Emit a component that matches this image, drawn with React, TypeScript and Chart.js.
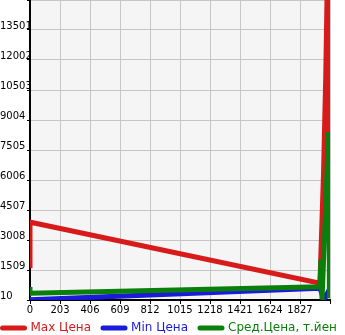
import { useEffect, useRef } from 'react';
import { Chart, registerables } from 'chart.js';

Chart.register(...registerables);

// ---- data ----
const seriesNames = ['Max Цена', 'Min Цена', 'Сред.Цена, т.йен'];
const seriesColors = ['#d71a1a', '#1a1ad9', '#0b7f0b'];

const maxX = [0, 0, 1962, 1986, 2001, 2015, 2022, 2026];
const maxY = [1600, 3900, 850, 6300, 11100, 17500, 14000, 2500];

const minX = [0, 1962, 1990, 2022];
const minY = [20, 600, 0, 500];

const avgX = [0, 0, 1962, 1969, 1976, 2020, 2024, 2026];
const avgY = [660, 350, 670, 2060, 30, 8400, 7800, 100];

const xTickLabels = [0, 203, 406, 609, 812, 1015, 1218, 1421, 1624, 1827];
const yTickLabels = [10, 1509, 3008, 4507, 6006, 7505, 9004, 10503, 12002, 13501];

const X_MIN = 0;
const X_MAX = 2030;
const X_STEP = 203;
const Y_MIN = 10;
const Y_MAX = 15000;
const Y_STEP = 1499;

const toPoints = (xs: number[], ys: number[]) => xs.map((x, i) => ({ x, y: ys[i] }));

const FONT = "'DejaVu Sans', sans-serif";
const LEGEND_PAD = 12;

export default function App() {
  const ref = useRef<HTMLCanvasElement | null>(null);

  useEffect(() => {
    document.body.style.margin = '0';
    const canvas = ref.current;
    if (!canvas) return;

    const bgPlugin = {
      id: 'plotBg',
      beforeDraw(chart: any) {
        const { ctx, chartArea } = chart;
        if (!chartArea) return;
        ctx.save();
        ctx.fillStyle = '#f5f5f5';
        ctx.fillRect(chartArea.left, chartArea.top, chartArea.right - chartArea.left, chartArea.bottom - chartArea.top);
        ctx.restore();
      },
    };

    const legendFit = {
      id: 'legendFit',
      beforeInit(chart: any) {
        const lg = chart.legend;
        if (!lg || lg.__patched) return;
        const orig = lg.fit;
        lg.fit = function () {
          const mw = this.maxWidth;
          this.maxWidth = 500;
          orig.call(this);
          this.maxWidth = mw;
          this.width = mw;
          this.height = 19;
        };
        lg.__patched = true;
      },
      afterLayout(chart: any) {
        const lg = chart.legend;
        if (!lg) return;
        lg.left = 2.5 - LEGEND_PAD;
        lg.right = 600;
        lg.top = lg.top - (LEGEND_PAD - 6);
      },
    };

    const chart = new Chart(canvas, {
      type: 'line',
      data: {
        datasets: [
          {
            label: seriesNames[0],
            data: toPoints(maxX, maxY),
            borderColor: seriesColors[0],
            backgroundColor: seriesColors[0],
            borderWidth: 5,
            pointRadius: 0,
            order: 3,
          },
          {
            label: seriesNames[1],
            data: toPoints(minX, minY),
            borderColor: seriesColors[1],
            backgroundColor: seriesColors[1],
            borderWidth: 5,
            pointRadius: 0,
            order: 2,
          },
          {
            label: seriesNames[2],
            data: toPoints(avgX, avgY),
            borderColor: seriesColors[2],
            backgroundColor: seriesColors[2],
            borderWidth: 5,
            pointRadius: 0,
            order: 1,
          },
        ],
      },
      options: {
        responsive: false,
        animation: false,
        layout: { padding: 0 },
        scales: {
          x: {
            type: 'linear',
            min: X_MIN,
            max: X_MAX,
            afterFit: (s: any) => {
              s.height = 16;
            },
            ticks: {
              stepSize: X_STEP,
              autoSkip: false,
              maxRotation: 0,
              minRotation: 0,
              padding: 0,
              color: '#000',
              font: { family: FONT, size: 10 },
              callback: (v: any) => (xTickLabels.includes(Number(v)) ? String(v) : ''),
            },
            grid: { color: '#c6c6c6', lineWidth: 1, tickLength: 4, tickColor: '#000' },
            border: { color: '#000', width: 2 },
          },
          y: {
            type: 'linear',
            min: Y_MIN,
            max: Y_MAX,
            afterFit: (s: any) => {
              s.width = 30;
            },
            ticks: {
              stepSize: Y_STEP,
              autoSkip: false,
              crossAlign: 'far',
              padding: -6,
              labelOffset: -4,
              color: '#000',
              font: { family: FONT, size: 10 },
              callback: (v: any) => (yTickLabels.includes(Number(v)) ? String(v) : ''),
            },
            grid: { color: '#c6c6c6', lineWidth: 1, tickLength: 3, tickColor: '#000' },
            border: { color: '#000', width: 2 },
          },
          yRight: {
            type: 'linear',
            position: 'right',
            display: true,
            afterFit: (s: any) => {
              s.width = 15;
            },
            grid: { display: false, drawTicks: false },
            border: { display: false },
            ticks: { display: false },
          },
        },
        plugins: {
          title: { display: false },
          tooltip: { enabled: false },
          legend: {
            position: 'bottom',
            align: 'start',
            labels: {
              usePointStyle: true,
              pointStyle: 'line',
              pointStyleWidth: 22,
              padding: LEGEND_PAD,
              font: { family: FONT, size: 12 },
              sort: (a: any, b: any) => a.datasetIndex - b.datasetIndex,
              generateLabels: (c: any) => {
                const items = (Chart.defaults.plugins.legend.labels as any).generateLabels(c);
                return items.map((it: any) => ({
                  ...it,
                  fontColor: seriesColors[it.datasetIndex],
                  strokeStyle: seriesColors[it.datasetIndex],
                  lineCap: 'round',
                  lineWidth: 5,
                  pointStyle: 'line',
                }));
              },
            },
          },
        },
      } as any,
      plugins: [bgPlugin, legendFit],
    });

    return () => chart.destroy();
  }, []);

  return (
    <div style={{ width: 345, height: 335 }}>
      <canvas ref={ref} width={345} height={335} style={{ display: 'block' }} />
    </div>
  );
}
